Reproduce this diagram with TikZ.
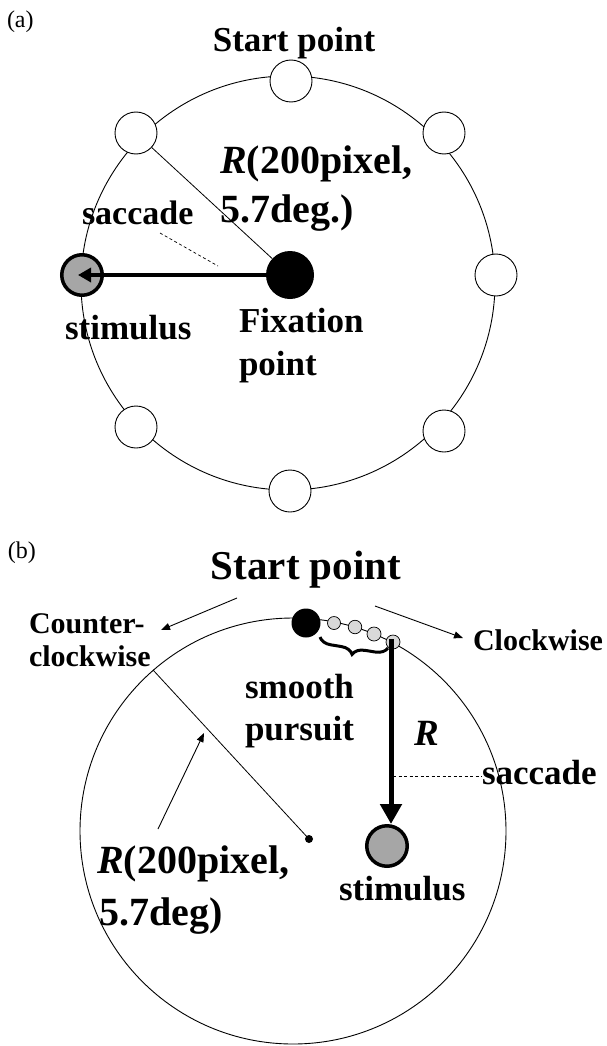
\documentclass[tikz,border=0pt]{standalone}
\usepackage{fontspec}
\setmainfont{Liberation Serif}
\usetikzlibrary{arrows.meta,decorations.pathreplacing,calc}
\begin{document}
\begin{tikzpicture}[x=1pt,y=-1pt,
  lbl/.style={inner sep=0pt, outer sep=0pt, anchor=base west, font=\bfseries\fontsize{35}{42}\selectfont},
  bigtxt/.style={font=\bfseries\fontsize{40}{48}\selectfont},
  midtxt/.style={font=\bfseries\fontsize{30}{36}\selectfont},
  tagtxt/.style={inner sep=0pt, outer sep=0pt, anchor=base west, font=\fontsize{24}{28}\selectfont},
  ring/.style={draw, circle, line width=0.9pt, inner sep=0pt, fill=white},
  bigring/.style={draw, circle, line width=0.9pt, inner sep=0pt},
  stim/.style={circle, draw, line width=3.5pt, fill=black!35, inner sep=0pt, minimum size=40.5pt},
  dot/.style={circle, fill=black, inner sep=0pt},
  pursuit/.style={draw, circle, line width=0.7pt, inner sep=0pt, fill=black!15},
  thinarrow/.style={line width=0.9pt, -{Triangle[length=9pt,width=7pt]}},
  dashline/.style={line width=0.7pt, dash pattern=on 3pt off 2.5pt}
]
\useasboundingbox (0,0) rectangle (607,1046);

% ---------------- (a) ----------------
\node[tagtxt] (tagA) at (7,28) {(a)};
\node[bigring, minimum size=414pt] (bigA) at (288,283) {};
\node[ring, minimum size=42pt] (aT)  at (291,81) {};
\node[ring, minimum size=42pt] (aUL) at (136,133) {};
\node[ring, minimum size=42pt] (aUR) at (444,133) {};
\node[ring, minimum size=42pt] (aR)  at (496,275) {};
\node[ring, minimum size=42pt] (aLL) at (136,427) {};
\node[ring, minimum size=42pt] (aLR) at (444,431) {};
\node[ring, minimum size=42pt] (aB)  at (290,491) {};
\node[stim] (stimA) at (82,275) {};
\node[dot, minimum size=48pt] (fixA) at (290,275) {};
\draw[line width=0.8pt] (fixA) -- (aUL);
\draw[line width=4pt, -{Triangle[length=13pt,width=14pt]}] (fixA.west) -- ([xshift=-4pt]stimA.center);
\coordinate (dA1) at (160,233);
\coordinate (dA2) at (218,266);
\draw[dashline] (dA1) -- (dA2);

\node[lbl, anchor=base] (startA) at (294,52) {Start point};
\node[lbl, bigtxt] (rA1) at (220,173) {\textit{R}(200pixel,};
\node[lbl, bigtxt] (rA2) at (220,222) {5.7deg.)};
\node[lbl, font=\bfseries\fontsize{34}{40}\selectfont] (sacA) at (82,224) {saccade};
\node[lbl] (stimtxtA) at (65,339) {stimulus};
\node[lbl] (fixtxtA1) at (239,332) {Fixation};
\node[lbl] (fixtxtA2) at (239,375) {point};

% ---------------- (b) ----------------
\node[tagtxt] (tagB) at (8,558) {(b)};
\node[bigring, minimum size=426pt] (bigB) at (293,831) {};
\node[dot, minimum size=29pt] (sB) at (306,623) {};
\node[pursuit, minimum size=13pt] (q1) at (334,623) {};
\node[pursuit, minimum size=13.5pt] (q2) at (355,627) {};
\node[pursuit, minimum size=14pt] (q3) at (374,634) {};
\node[pursuit, minimum size=14pt] (q4) at (393,642) {};
\node[dot, minimum size=8pt] (cB) at (309,839) {};
\draw[line width=0.8pt] (bigB.131) -- (cB.center);
\coordinate (pt1) at (158,829);
\coordinate (pt2) at (204,733);
\draw[thinarrow] (pt1) -- (pt2);

\coordinate (br1) at (320,637);
\coordinate (br2) at (388,648);
\draw[line width=3pt, decorate, decoration={brace, amplitude=12pt, mirror}] (br1) -- (br2);

\node[stim] (stimB) at (387,846) {};
\coordinate (sT) at (391,639);
\draw[line width=5pt, -{Triangle[length=20pt,width=21pt]}] (sT) -- (sT |- stimB.north);

\node[lbl, anchor=base] (startB) at (306,579) {\fontsize{41}{48}\selectfont Start point};
\coordinate (ccw1) at (237,598);
\coordinate (ccw2) at (161,630);
\draw[thinarrow] (ccw1) -- (ccw2);
\coordinate (cw1) at (375,606);
\coordinate (cw2) at (463,638);
\draw[thinarrow] (cw1) -- (cw2);

\node[lbl, midtxt] (ccwA) at (29,633) {Counter-};
\node[lbl, midtxt] (ccwB) at (29,666) {clockwise};
\node[lbl, midtxt] (cwtxt) at (473,650) {Clockwise};
\node[lbl] (smooth) at (245,698) {smooth};
\node[lbl] (pursuittxt) at (245,740) {pursuit};
\node[lbl, font=\bfseries\itshape\fontsize{37}{44}\selectfont] (rB) at (414,745) {R};
\node[lbl] (sacB) at (482,784) {saccade};
\coordinate (sd) at (393,776);
\draw[dashline] (sd) -- (sd -| sacB.west);
\node[lbl] (stimtxtB) at (339,900) {stimulus};
\node[lbl, bigtxt] (rB1) at (97,873) {\textit{R}(200pixel,};
\node[lbl, bigtxt] (rB2) at (99,925) {5.7deg)};
\end{tikzpicture}
\end{document}
